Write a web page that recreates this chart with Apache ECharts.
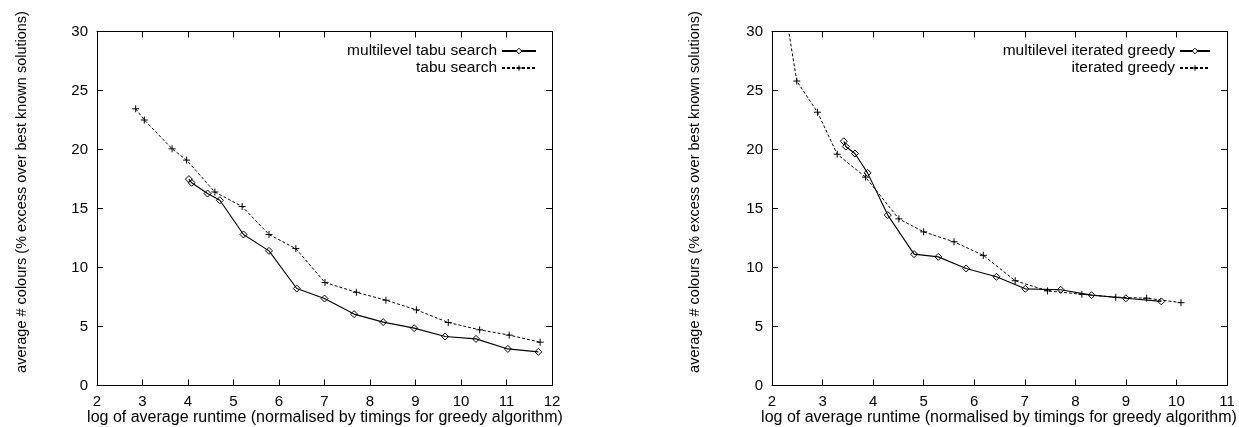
<!DOCTYPE html>
<html>
<head>
<meta charset="utf-8">
<script src="https://cdn.jsdelivr.net/npm/echarts@6/dist/echarts.min.js"></script>
<style>
  html, body { margin: 0; padding: 0; background: #fff; }
  #chart { width: 1239px; height: 427px; }
</style>
</head>
<body>
<div id="chart"></div>
<script>
// Tabu search comparison (left panel)
const tabuX = [2.85, 3.04, 3.65, 3.97, 4.59, 5.19, 5.78, 6.37, 7.01, 7.70, 8.35, 9.02, 9.72, 10.41, 11.06, 11.74];
const tabuY = [23.45, 22.5, 20.06, 19.1, 16.4, 15.17, 12.8, 11.6, 8.73, 7.9, 7.23, 6.41, 5.34, 4.72, 4.27, 3.67];
const mlTabuX = [4.02, 4.08, 4.43, 4.70, 5.22, 5.78, 6.39, 7.00, 7.65, 8.29, 8.97, 9.65, 10.33, 11.03, 11.70];
const mlTabuY = [17.49, 17.18, 16.27, 15.7, 12.8, 11.41, 8.22, 7.37, 6.05, 5.37, 4.86, 4.15, 3.95, 3.1, 2.85];

// Iterated greedy comparison (right panel); the first point lies above the plotted range
const igX = [2.18, 2.49, 2.90, 3.29, 3.85, 4.51, 5.00, 5.60, 6.18, 6.81, 7.45, 8.13, 8.80, 9.41, 10.09];
const igY = [34.0, 25.8, 23.16, 19.6, 17.66, 14.12, 13.02, 12.18, 11.03, 8.88, 8.02, 7.73, 7.48, 7.4, 7.02];
const mlIgX = [3.42, 3.46, 3.64, 3.89, 4.29, 4.81, 5.29, 5.84, 6.44, 7.01, 7.71, 8.32, 9.00, 9.70];
const mlIgY = [20.7, 20.25, 19.66, 18.02, 14.44, 11.13, 10.9, 9.92, 9.21, 8.19, 8.11, 7.66, 7.39, 7.13];

const names = ['multilevel tabu search', 'tabu search', 'multilevel iterated greedy', 'iterated greedy'];
const xRangeLeft = [2, 12];
const xRangeRight = [2, 11];
const yRange = [0, 30];
const yTitle = 'average # colours (% excess over best known solutions)';
const xTitle = 'log of average runtime (normalised by timings for greedy algorithm)';

const FONT = 'Liberation Sans, Arial, Helvetica, sans-serif';
const PLUS = 'path://M5,0L5,10M0,5L10,5';

function pairs(xs, ys) { return xs.map((x, i) => [x, ys[i]]); }

function xAxes(gridIndex, range) {
  const common = {
    type: 'value', gridIndex, min: range[0], max: range[1], interval: 1,
    axisLine: { show: true, onZero: false, lineStyle: { color: '#000', width: 1 } },
    axisTick: { show: true, inside: true, length: 6, lineStyle: { color: '#000' } },
    splitLine: { show: false }
  };
  return [
    Object.assign({}, common, {
      position: 'bottom',
      axisLabel: { color: '#000', fontSize: 15, fontFamily: FONT, margin: 9 }
    }),
    Object.assign({}, common, { position: 'top', axisLabel: { show: false } })
  ];
}

function yAxes(gridIndex) {
  const common = {
    type: 'value', gridIndex, min: yRange[0], max: yRange[1], interval: 5,
    axisLine: { show: true, onZero: false, lineStyle: { color: '#000', width: 1 } },
    axisTick: { show: true, inside: true, length: 6, lineStyle: { color: '#000' } },
    splitLine: { show: false }
  };
  return [
    Object.assign({}, common, {
      position: 'left',
      axisLabel: { color: '#000', fontSize: 15, fontFamily: FONT, margin: 9 }
    }),
    Object.assign({}, common, { position: 'right', axisLabel: { show: false } })
  ];
}

// Axis titles drawn as free text so they sit exactly under / beside each panel
function titleText(text, cx, cy, rotated, size) {
  return {
    type: 'text', x: cx, y: cy, rotation: rotated ? Math.PI / 2 : 0, silent: true,
    style: {
      text, fill: '#000', fontSize: size, fontFamily: FONT,
      align: 'center', verticalAlign: 'middle'
    }
  };
}

function solidSeries(name, xi, yi, data) {
  return {
    name, type: 'line', xAxisIndex: xi, yAxisIndex: yi, data,
    symbol: 'diamond', symbolSize: 7, showSymbol: true, clip: true,
    lineStyle: { color: '#000', width: 1.1, type: 'solid' },
    itemStyle: { color: 'rgba(255,255,255,0)', borderColor: '#000', borderWidth: 1 },
    emphasis: { disabled: true }, animation: false
  };
}

function dashedSeries(name, xi, yi, data) {
  return {
    name, type: 'line', xAxisIndex: xi, yAxisIndex: yi, data,
    symbol: PLUS, symbolSize: 7, showSymbol: true, clip: true,
    lineStyle: { color: '#000', width: 1, type: [3, 2] },
    itemStyle: { color: 'rgba(255,255,255,0)', borderColor: '#000', borderWidth: 1 },
    emphasis: { disabled: true }, animation: false
  };
}

function legendRow(name, right, top, width) {
  return {
    data: [name], orient: 'horizontal', align: 'right',
    right, top, itemWidth: width, itemHeight: 7, padding: 0,
    selectedMode: false,
    itemStyle: { color: '#fff', borderColor: '#000', borderWidth: 1 },
    textStyle: { color: '#000', fontSize: 15.5, fontFamily: FONT }
  };
}

const chart = echarts.init(document.getElementById('chart'), null, { renderer: 'canvas' });
chart.setOption({
  backgroundColor: '#fff',
  animation: false,
  grid: [
    { left: 97, top: 31.5, width: 455, height: 354, containLabel: false, outerBoundsMode: 'none' },
    { left: 772, top: 31.5, width: 455, height: 354, containLabel: false, outerBoundsMode: 'none' }
  ],
  xAxis: xAxes(0, xRangeLeft).concat(xAxes(1, xRangeRight)),
  yAxis: yAxes(0).concat(yAxes(1)),
  legend: [
    legendRow(names[0], 702, 43, 34),
    legendRow(names[1], 702, 60, 34),
    legendRow(names[2], 28, 43, 30),
    legendRow(names[3], 28, 60, 30)
  ],
  graphic: [
    titleText(yTitle, 22, 192, true, 14.5),
    titleText(yTitle, 695, 192, true, 14.5),
    titleText(xTitle, 325, 418, false, 16),
    titleText(xTitle, 999, 418, false, 16)
  ],
  series: [
    solidSeries(names[0], 0, 0, pairs(mlTabuX, mlTabuY)),
    dashedSeries(names[1], 0, 0, pairs(tabuX, tabuY)),
    solidSeries(names[2], 2, 2, pairs(mlIgX, mlIgY)),
    dashedSeries(names[3], 2, 2, pairs(igX, igY))
  ]
});
</script>
</body>
</html>
